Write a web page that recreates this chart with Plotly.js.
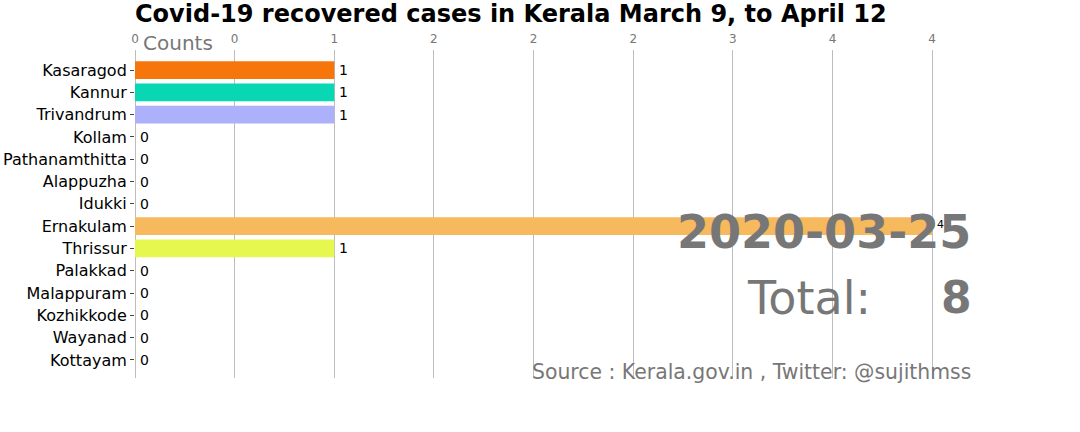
<!DOCTYPE html>
<html>
<head>
<meta charset="utf-8">
<script src="https://cdn.plot.ly/plotly-3.0.1.min.js"></script>
<style>html,body{margin:0;padding:0;background:#fff;}#chart{width:1080px;height:432px;}</style>
</head>
<body>
<div id="chart"></div>
<script>
// Districts, top to bottom as shown
const districts = ["Kasaragod","Kannur","Trivandrum","Kollam","Pathanamthitta","Alappuzha","Idukki","Ernakulam","Thrissur","Palakkad","Malappuram","Kozhikkode","Wayanad","Kottayam"];
const recovered = [1,1,1,0,0,0,0,4,1,0,0,0,0,0];
const barColors = ["#f7760b","#07d8b3","#adb0fa","#8dd3c7","#fb8072","#80b1d3","#fdb462","#f6b95e","#e6f74f","#b3de69","#fccde5","#bc80bd","#ccebc5","#ffed6f"];
const tickVals = [0,0.5,1,1.5,2,2.5,3,3.5,4];
const tickText = ["0","0","1","2","2","2","3","4","4"];
const dateLabel = "2020-03-25";
const totalLabel = "Total:";
const totalValue = "8";
const titleText = "Covid-19 recovered cases in Kerala March 9, to April 12";
const sourceText = "Source : Kerala.gov.in , Twitter: @sujithmss";

const FONT = "DejaVu Sans";
const maxVal = Math.max(...recovered);

const trace = {
  type: "bar",
  orientation: "h",
  y: districts,
  x: recovered,
  width: 0.8,
  marker: {color: barColors, line: {width: 0}},
  hoverinfo: "none"
};

const annotations = [];
annotations.push({
  x: 0, y: 1.0213, xref: "paper", yref: "paper", xshift: 6,
  text: "Counts", showarrow: false, xanchor: "left", yanchor: "middle",
  font: {family: FONT, size: 20, color: "#777777"}
});
annotations.push({
  x: 0.9976, y: 0.445, xref: "paper", yref: "paper", xshift: 3,
  text: "<b>" + dateLabel + "</b>", showarrow: false, xanchor: "right", yanchor: "middle",
  font: {family: FONT, size: 46, color: "#777777"}
});
annotations.push({
  x: 0.878, y: 0.244, xref: "paper", yref: "paper", xshift: 3,
  text: totalLabel, showarrow: false, xanchor: "right", yanchor: "middle",
  font: {family: FONT, size: 46, color: "#777777"}
});
annotations.push({
  x: 0.9976, y: 0.244, xref: "paper", yref: "paper", xshift: 4,
  text: "<b>" + totalValue + "</b>", showarrow: false, xanchor: "right", yanchor: "middle",
  font: {family: FONT, size: 44, color: "#777777"}
});
annotations.push({
  x: 0.9976, y: 0.0183, xref: "paper", yref: "paper", xshift: 3,
  text: sourceText, showarrow: false, xanchor: "right", yanchor: "middle",
  font: {family: FONT, size: 20.4, color: "#777777"}
});
districts.forEach((d, i) => annotations.push({
  x: recovered[i], y: d, xref: "x", yref: "y",
  text: String(recovered[i]), showarrow: false,
  xanchor: "left", yanchor: "middle", xshift: 3,
  yshift: recovered[i] === maxVal ? 2 : 0,
  font: {family: FONT, size: recovered[i] === maxVal ? 11 : 14, color: "#000"}
}));

const layout = {
  width: 1080, height: 432,
  margin: {l: 135, r: 108, t: 50, b: 54, pad: 0},
  paper_bgcolor: "#fff", plot_bgcolor: "#fff",
  showlegend: false,
  title: {
    text: "<b>" + titleText + "</b>",
    x: 135/1080, xanchor: "left", xref: "container",
    y: 1 - 14/432, yanchor: "middle", yref: "container",
    font: {family: FONT, size: 24, color: "#000"}
  },
  xaxis: {
    side: "top",
    range: [0, 4.2],
    tickmode: "array", tickvals: tickVals, ticktext: tickText,
    showgrid: true, gridcolor: "#bdbdbd", gridwidth: 1,
    zeroline: true, zerolinecolor: "#bdbdbd", zerolinewidth: 1, showline: false,
    ticks: "", ticklabelstandoff: 4,
    tickfont: {family: FONT, size: 12, color: "#777777"},
    fixedrange: true
  },
  yaxis: {
    type: "category",
    categoryorder: "array", categoryarray: districts.slice().reverse(),
    range: [-0.81, 13.9],
    showgrid: false, zeroline: false, showline: false,
    ticks: "outside", ticklen: 4, tickcolor: "#444", tickwidth: 1,
    tickfont: {family: FONT, size: 16, color: "#000"},
    fixedrange: true
  },
  annotations: annotations
};

Plotly.newPlot("chart", [trace], layout, {displayModeBar: false, staticPlot: true});
</script>
</body>
</html>
